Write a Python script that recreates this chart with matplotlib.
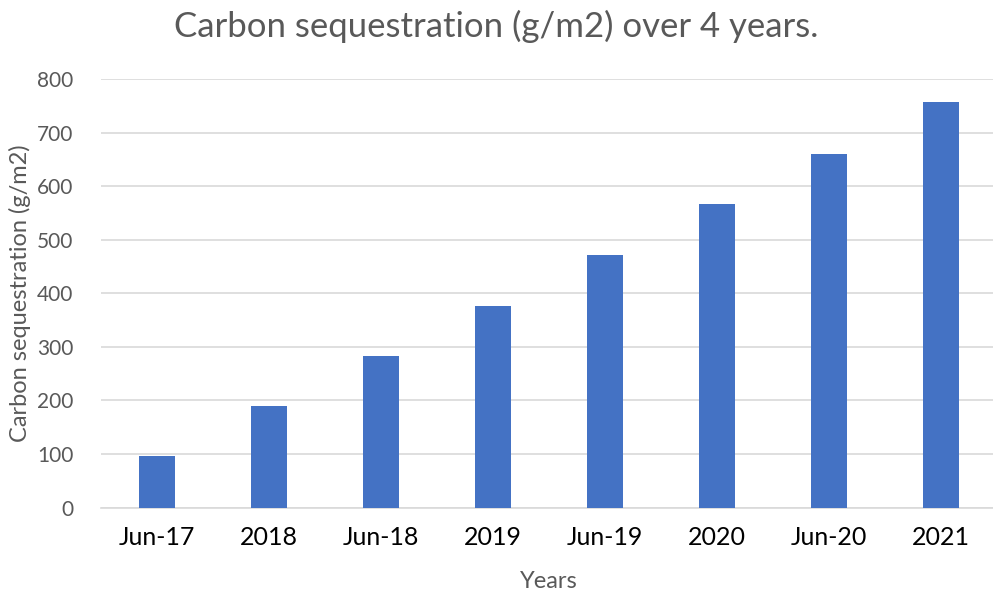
import matplotlib.pyplot as plt

categories = ["Jun-17", "2018", "Jun-18", "2019", "Jun-19", "2020", "Jun-20", "2021"]
values = [96, 190, 283, 377, 472, 566, 660, 757]

plt.rcParams['font.family'] = ['Lato', 'DejaVu Sans']

fig = plt.figure(figsize=(9.93, 5.93), dpi=100)
ax = fig.add_axes([101 / 993, 1 - 507.5 / 593, 896 / 993, (507.5 - 79) / 593])

x = range(len(categories))
ax.bar(x, values, width=0.32, color="#4472C4", zorder=3)

ax.set_xlim(-0.5, len(categories) - 0.5)
ax.set_ylim(0, 800)
ax.set_yticks(range(0, 801, 100))
ax.set_xticks(list(x))
ax.set_xticklabels(categories, fontsize=18, color="black")
ax.tick_params(axis='y', labelsize=15, labelcolor="#595959", length=0, pad=20)
ax.tick_params(axis='x', length=0, pad=13)
ax.grid(axis='y', color="#D9D9D9", linewidth=1.2, zorder=0)
for s in ["top", "right", "left"]:
    ax.spines[s].set_visible(False)
ax.spines["bottom"].set_color("#D9D9D9")
ax.spines["bottom"].set_linewidth(1.2)

ax.set_ylabel("Carbon sequestration (g/m2)", fontsize=17, color="#595959", labelpad=4)
ax.set_xlabel("Years", fontsize=17, color="#595959", labelpad=16)
fig.text(0.5, 0.955, "Carbon sequestration (g/m2) over 4 years.", ha="center", va="center",
         fontsize=25, color="#595959")

fig.savefig("out.png", dpi=100)
